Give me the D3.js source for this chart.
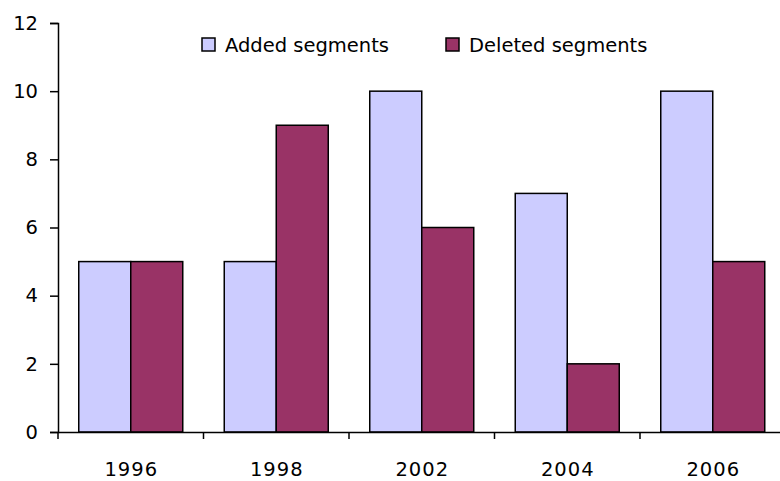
<!DOCTYPE html>
<html>
<head>
<meta charset="utf-8">
<script src="https://cdn.jsdelivr.net/npm/d3@7"></script>
<style>
  html, body { margin: 0; padding: 0; background: #fff; }
  svg text { font-family: "DejaVu Sans", sans-serif; fill: #000; }
</style>
</head>
<body>
<svg id="chart" width="780" height="481"></svg>
<script>
const years = ["1996", "1998", "2002", "2004", "2006"];
const added = [5, 5, 10, 7, 10];
const deleted = [5, 9, 6, 2, 5];
const seriesNames = ["Added segments", "Deleted segments"];
const seriesColors = ["#CCCCFF", "#993366"];
const yTicks = [0, 2, 4, 6, 8, 10, 12];

const svg = d3.select("#chart");
const plotLeft = 58, plotRight = 785.5, plotTop = 23, plotBottom = 432;

const x = d3.scaleBand().domain(years).range([plotLeft, plotRight]).paddingInner(0).paddingOuter(0);
const inner = d3.scaleBand().domain([0, 1]).range([0, 104]);
const y = d3.scaleLinear().domain([0, 12]).range([plotBottom, plotTop]);

const rows = years.map((yr, i) => ({ yr, vals: [added[i], deleted[i]] }));

// bars
const groups = svg.append("g").selectAll("g").data(rows).join("g")
  .attr("transform", d => `translate(${x(d.yr) + (x.bandwidth() - 104) / 2},0)`);
groups.selectAll("rect").data(d => d.vals.map((v, k) => ({ v, k }))).join("rect")
  .attr("x", d => inner(d.k))
  .attr("y", d => y(d.v))
  .attr("width", inner.bandwidth())
  .attr("height", d => y(0) - y(d.v))
  .attr("fill", d => seriesColors[d.k])
  .attr("stroke", "#000")
  .attr("stroke-width", 1.5);

// y axis
const yAxis = svg.append("g").attr("transform", `translate(${plotLeft},0)`)
  .call(d3.axisLeft(y).tickValues(yTicks).tickSize(8).tickPadding(12).tickFormat(d3.format("d")));
yAxis.select(".domain").attr("stroke", "#000").attr("stroke-width", 1.5);
yAxis.selectAll(".tick line").attr("stroke", "#000").attr("stroke-width", 1.5);
yAxis.selectAll("text").attr("font-size", 19.5).attr("font-family", "DejaVu Sans")
  .attr("fill", "#000");

// x axis
const xAxis = svg.append("g").attr("transform", `translate(0,${plotBottom})`)
  .call(d3.axisBottom(x).tickSize(0).tickPadding(30));
xAxis.select(".domain").attr("stroke", "#000").attr("stroke-width", 1.5);
xAxis.selectAll("text").attr("font-size", 19.5).attr("font-family", "DejaVu Sans")
  .attr("letter-spacing", 1).attr("dx", 0.5).attr("fill", "#000");
// boundary ticks between categories
const bounds = years.map(yr => x(yr)).concat([plotRight]);
xAxis.selectAll("line.bound").data(bounds).join("line")
  .attr("class", "bound")
  .attr("x1", d => d).attr("x2", d => d)
  .attr("y1", 0).attr("y2", 7)
  .attr("stroke", "#000").attr("stroke-width", 1.5);

// legend
const legendPos = [{ sx: 202, tx: 225 }, { sx: 446, tx: 469 }];
const legend = svg.append("g").selectAll("g").data(seriesNames).join("g");
legend.append("rect")
  .attr("x", (d, i) => legendPos[i].sx).attr("y", 38)
  .attr("width", 13).attr("height", 13)
  .attr("fill", (d, i) => seriesColors[i])
  .attr("stroke", "#000").attr("stroke-width", 1.5);
legend.append("text")
  .attr("x", (d, i) => legendPos[i].tx).attr("y", 52)
  .attr("font-size", 19.5)
  .text(d => d);
</script>
</body>
</html>
